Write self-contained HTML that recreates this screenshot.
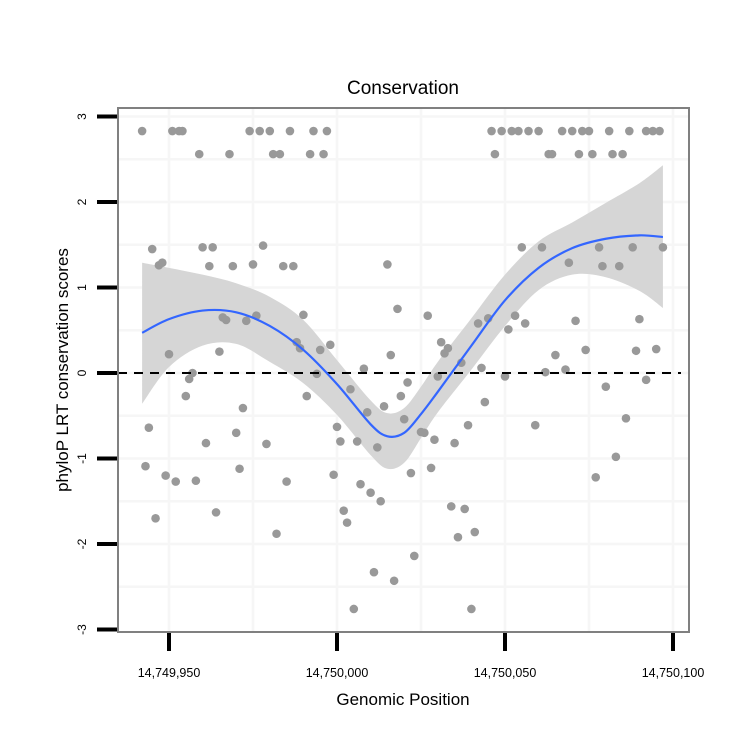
<!DOCTYPE html>
<html><head><meta charset="utf-8"><style>
body{margin:0;background:#fff;font-family:"Liberation Sans",sans-serif}
</style></head><body>
<svg id="chart" width="750" height="750" xmlns="http://www.w3.org/2000/svg" font-family="Liberation Sans, sans-serif">
<rect width="750" height="750" fill="#fff"/>
<g id="grid"></g>
<g id="band"></g>
<g id="pts"></g>
<g id="fitg"></g>
<g id="axes"></g>
</svg>
<script>
const BASE = 14749950;
const topRowOffsets = [-8,1,3,4,24,27,30,36,43,47,96,99,102,104,107,110,117,120,123,125,131,137,142,144,146];
const secondRowOffsets = [9,18,31,33,42,46,97,113,114,122,126,132,135];
const pointOffsets = [-5,-3,-2,10,13,12,19,25,28,34,37,65,68,0,15,16,17,23,26,40,38,39,45,48,58,66,71,69,7,6,5,41,44,54,
77,81,83,82,92,95,103,106,101,119,105,111,128,138,147,129,134,121,140,115,124,139,145,87,93,80,100,112,118,130,142,
-6,-7,-4,-1,2,8,11,14,20,21,22,29,35,32,50,51,56,49,57,60,63,52,53,61,67,55,64,62,59,
70,75,76,79,85,89,94,109,78,72,84,88,86,91,73,90,136,133,127];
const pointScores = [1.45,1.26,1.29,1.47,1.47,1.25,1.25,1.27,1.49,1.25,1.25,1.27,0.75,0.22,0.25,0.65,0.62,0.61,0.67,0.68,0.36,0.29,0.27,0.33,0.05,0.21,-0.11,-0.27,0,-0.07,-0.27,-0.27,-0.01,-0.19,
0.67,0.36,0.29,0.23,0.58,0.64,0.67,0.58,0.51,1.29,1.47,1.47,1.47,1.47,1.47,1.25,1.25,0.61,0.63,0.21,0.27,0.26,0.28,0.12,0.06,-0.04,-0.04,0.01,0.04,-0.16,-0.08,
-0.64,-1.09,-1.70,-1.20,-1.27,-1.26,-0.82,-1.63,-0.70,-1.12,-0.41,-0.83,-1.27,-1.88,-0.63,-0.80,-0.80,-1.19,-1.30,-1.40,-1.50,-1.61,-1.75,-2.33,-2.43,-2.76,-0.39,-0.87,-0.46,
-0.54,-0.69,-0.70,-0.78,-0.82,-0.61,-0.34,-0.61,-1.11,-1.17,-1.56,-1.59,-1.92,-1.86,-2.14,-2.76,-0.53,-0.98,-1.22];
const fitOffsets = [-8,0,10,20,30,40,50,60,65,70,75,80,90,100,110,120,130,140,147];
const fitValues = [0.47,0.63,0.73,0.71,0.55,0.27,-0.13,-0.60,-0.74,-0.70,-0.48,-0.22,0.32,0.85,1.23,1.46,1.57,1.61,1.59];
const upperValues = [1.29,1.23,1.15,1.05,0.89,0.62,0.15,-0.32,-0.47,-0.41,-0.16,0.13,0.64,1.15,1.54,1.76,1.99,2.22,2.43];
const lowerValues = [-0.36,0.07,0.32,0.34,0.13,-0.12,-0.49,-0.96,-1.12,-1.05,-0.76,-0.46,0.04,0.55,0.97,1.15,1.12,0.96,0.76];
const xTicks = [14749950,14750000,14750050,14750100];
const xTickLabels = ["14,749,950","14,750,000","14,750,050","14,750,100"];
const yTicks = [-3,-2,-1,0,1,2,3];
const TOP_SCORE = 2.83, SECOND_SCORE = 2.56;

const NS="http://www.w3.org/2000/svg";
const L=118,R=689,T=108,B=632;
const xs = p => 169 + (p - BASE) * 3.36;
const ys = v => 373 - v * 85.5;
function mk(tag, attrs, parent){const e=document.createElementNS(NS,tag);for(const k in attrs)e.setAttribute(k,attrs[k]);parent.appendChild(e);return e;}
function smooth(P, move){let s=move?('M'+P[0][0]+','+P[0][1]):('L'+P[0][0]+','+P[0][1]);
for(let i=0;i<P.length-1;i++){const p0=P[i-1]||P[i],p1=P[i],p2=P[i+1],p3=P[i+2]||P[i+1];
s+='C'+(p1[0]+(p2[0]-p0[0])/6)+','+(p1[1]+(p2[1]-p0[1])/6)+' '+(p2[0]-(p3[0]-p1[0])/6)+','+(p2[1]-(p3[1]-p1[1])/6)+' '+p2[0]+','+p2[1];}
return s;}
const grid=document.getElementById('grid'),band=document.getElementById('band'),pts=document.getElementById('pts'),fitg=document.getElementById('fitg'),axes=document.getElementById('axes');

for(let v=-2.5;v<=3;v+=0.5){const e=mk('line',{x1:L,x2:R,y1:ys(v),y2:ys(v),stroke:'#f6f6f6','stroke-width':2.5},grid);

}
for(let p=14749950;p<=14750100;p+=25){const e=mk('line',{x1:xs(p),x2:xs(p),y1:T,y2:B,stroke:'#f6f6f6','stroke-width':2.5},grid);

}

const up=fitOffsets.map((o,i)=>[xs(BASE+o),ys(upperValues[i])]);
const lo=fitOffsets.map((o,i)=>[xs(BASE+o),ys(lowerValues[i])]).reverse();
const bp=mk('path',{d:smooth(up,true)+smooth(lo,false)+'Z',fill:'#d6d6d6'},band);



function dot(o,v){const c=mk('circle',{cx:xs(BASE+o),cy:ys(v),r:4.3,fill:'#999999'},pts);

}
topRowOffsets.forEach(o=>dot(o,TOP_SCORE));
secondRowOffsets.forEach(o=>dot(o,SECOND_SCORE));
pointOffsets.forEach((o,i)=>dot(o,pointScores[i]));

const z=mk('line',{x1:L,x2:R-8,y1:ys(0),y2:ys(0),stroke:'#000','stroke-width':2,'stroke-dasharray':'9,7'},fitg);


const fpts=fitOffsets.map((o,i)=>[xs(BASE+o),ys(fitValues[i])]);
const fp=mk('path',{d:smooth(fpts,true),fill:'none',stroke:'#3366ff','stroke-width':2.2},fitg);



const pb=mk('rect',{x:L,y:T,width:R-L,height:B-T,fill:'none',stroke:'#808080','stroke-width':2},axes);


yTicks.forEach(v=>{const t=mk('line',{x1:97,x2:117,y1:ys(v),y2:ys(v),stroke:'#000','stroke-width':4},axes);


const y=ys(v);const tx=mk('text',{x:0,y:0,transform:`translate(86,${y}) rotate(-90)`,'text-anchor':'middle','font-size':12},axes);
tx.textContent=String(v);

});
xTicks.forEach((p,i)=>{const t=mk('line',{x1:xs(p),x2:xs(p),y1:633,y2:651,stroke:'#000','stroke-width':4},axes);


const tx=mk('text',{x:xs(p),y:677,'text-anchor':'middle','font-size':12.5},axes);
tx.textContent=xTickLabels[i];

});
</script>
<svg style="position:absolute;left:0;top:0" width="750" height="750" pointer-events="none">
<text x="403" y="94" text-anchor="middle" font-size="19" font-family="Liberation Sans, sans-serif">Conservation</text>
<text x="403" y="705" text-anchor="middle" font-size="17" font-family="Liberation Sans, sans-serif">Genomic Position</text>
<text transform="translate(68,370) rotate(-90)" text-anchor="middle" font-size="17" font-family="Liberation Sans, sans-serif">phyloP LRT conservation scores</text>
</svg>
</body></html>
